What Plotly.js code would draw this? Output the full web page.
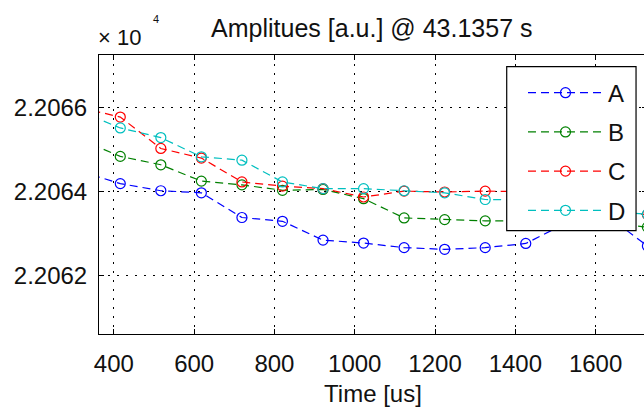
<!DOCTYPE html>
<html>
<head>
<meta charset="utf-8">
<script src="https://cdn.plot.ly/plotly-3.0.1.min.js"></script>
<style>
html,body{margin:0;padding:0;overflow:hidden;background:#fff;width:644px;height:408px;}
#chart{width:650px;height:408px;}
</style>
</head>
<body>
<div id="chart"></div>
<script>
// Time axis (us)
const timeUs = [315, 416, 517, 618, 719, 820, 921, 1022, 1123, 1224, 1325, 1426, 1527, 1628, 1729];
// Amplitudes (raw, displayed as x10^4)
const seriesA = [22064.49, 22064.19, 22064.02, 22063.97, 22063.38, 22063.29, 22062.84, 22062.77, 22062.66, 22062.62, 22062.66, 22062.76, 22063.25, 22063.43, 22062.70];
const seriesB = [22065.25, 22064.84, 22064.64, 22064.25, 22064.16, 22064.03, 22064.05, 22063.83, 22063.37, 22063.33, 22063.30, 22063.30, 22063.28, 22063.25, 22063.15];
const seriesC = [22066.01, 22065.78, 22065.03, 22064.80, 22064.23, 22064.13, 22064.07, 22063.87, 22064.01, 22063.99, 22064.01, 22064.00, 22063.80, 22063.50, 22063.45];
const seriesD = [22065.92, 22065.52, 22065.29, 22064.83, 22064.75, 22064.23, 22064.07, 22064.07, 22064.02, 22063.97, 22063.81, 22063.80, 22063.70, 22063.52, 22063.46];
const seriesNames = ['A', 'B', 'C', 'D'];
const seriesColors = ['#0000ff', '#008000', '#ff0000', '#00bfbf'];
const xTickVals = [400, 600, 800, 1000, 1200, 1400, 1600];
const yTickVals = [22062, 22064, 22066];
const yTickText = ['2.2062', '2.2064', '2.2066'];

const allSeries = [seriesA, seriesB, seriesC, seriesD];
const traces = allSeries.map((ys, i) => ({
  x: timeUs, y: ys, name: seriesNames[i], type: 'scatter', mode: 'lines+markers',
  legendgroup: 'g' + i,
  line: {color: seriesColors[i], width: 1.2, dash: '8px,5px'},
  marker: {symbol: 'circle-open', size: 10, color: seriesColors[i], line: {width: 1.2, color: seriesColors[i]}}
}));

const fontFam = '"Liberation Sans", Arial, Helvetica, sans-serif';
const axisCommon = {
  showline: true, mirror: 'ticks', linecolor: '#000', linewidth: 1,
  ticks: 'inside', ticklen: 5, tickcolor: '#000', tickwidth: 1,
  showgrid: true, gridcolor: '#000', gridwidth: 1, griddash: '2px,7px',
  zeroline: false, tickfont: {family: fontFam, size: 24, color: '#111'}
};

const layout = {
  width: 650, height: 408,
  margin: {l: 99, r: 3, t: 55, b: 74},
  paper_bgcolor: '#fff', plot_bgcolor: '#fff',
  showlegend: true,
  title: {text: 'Amplitues [a.u.] @ 43.1357 s', font: {family: fontFam, size: 25, color: '#111'},
          x: 0.572, xanchor: 'center', y: 0.93, yanchor: 'middle'},
  xaxis: Object.assign({}, axisCommon, {
    range: [363, 1728], tickvals: xTickVals, ticklabelstandoff: 8,
    title: {text: 'Time [us]', font: {family: fontFam, size: 24, color: '#111'}, standoff: 9}
  }),
  yaxis: Object.assign({}, axisCommon, {
    range: [22060.597, 22067.263], tickvals: yTickVals, ticktext: yTickText, ticklabelstandoff: 6
  }),
  legend: {
    x: 0.7737, y: 0.944, xanchor: 'left', yanchor: 'top',
    bgcolor: 'rgba(0,0,0,0)', borderwidth: 0,
    font: {family: fontFam, size: 24, color: '#111'},
    itemwidth: 75, tracegroupgap: 5, traceorder: 'grouped'
  },
  shapes: [
    {type: 'rect', xref: 'paper', yref: 'paper', x0: 0.744, x1: 0.98, y0: 0.3703, y1: 0.958,
     line: {color: '#000', width: 1.2}, fillcolor: '#fff', layer: 'above'}
  ],
  annotations: [
    {text: '× 10', xref: 'paper', yref: 'paper', x: -0.006, y: 1.01, xanchor: 'left', yanchor: 'bottom',
     showarrow: false, font: {family: fontFam, size: 22, color: '#111'}},
    {text: '4', xref: 'paper', yref: 'paper', x: 0.094, y: 1.1, xanchor: 'left', yanchor: 'bottom',
     showarrow: false, font: {family: fontFam, size: 11, color: '#111'}}
  ]
};

Plotly.newPlot('chart', traces, layout, {staticPlot: true, displayModeBar: false});
</script>
</body>
</html>
